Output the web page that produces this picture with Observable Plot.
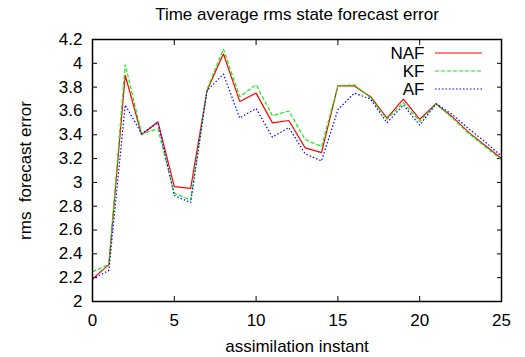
<!DOCTYPE html>
<html>
<head>
<meta charset="utf-8">
<script src="https://cdn.jsdelivr.net/npm/d3@7"></script>
<script src="https://cdn.jsdelivr.net/npm/@observablehq/plot@0.6"></script>
<style>
  html, body { margin: 0; padding: 0; background: #fff; }
  svg { white-space: pre; }
</style>
</head>
<body>
<div id="chart"></div>
<script>
const title = "Time average rms state forecast error";
const xLabel = "assimilation instant";
const yLabel = "rms  forecast error";
const instants = d3.range(0, 26);
const xTicks = [0, 5, 10, 15, 20, 25];
const yTicks = [2, 2.2, 2.4, 2.6, 2.8, 3, 3.2, 3.4, 3.6, 3.8, 4, 4.2];
const seriesNames = ["NAF", "KF", "AF"];
const naf = [2.19, 2.31, 3.90, 3.40, 3.51, 2.965, 2.95, 3.77, 4.08, 3.68, 3.75, 3.50, 3.52, 3.29, 3.25, 3.81, 3.81, 3.72, 3.54, 3.70, 3.53, 3.66, 3.55, 3.42, 3.31, 3.20];
const kf  = [2.25, 2.31, 3.99, 3.41, 3.45, 2.91, 2.85, 3.78, 4.12, 3.72, 3.82, 3.56, 3.60, 3.36, 3.30, 3.81, 3.82, 3.71, 3.53, 3.67, 3.51, 3.66, 3.54, 3.41, 3.30, 3.19];
const af  = [2.19, 2.26, 3.65, 3.41, 3.50, 2.89, 2.83, 3.77, 3.91, 3.54, 3.62, 3.38, 3.46, 3.24, 3.18, 3.61, 3.75, 3.70, 3.50, 3.65, 3.48, 3.66, 3.57, 3.45, 3.34, 3.22];

const styles = {
  NAF: {stroke: "#ff0000", dash: null},
  KF:  {stroke: "#11ee11", dash: "4,2"},
  AF:  {stroke: "#0000ff", dash: "1.5,2"}
};
const seriesValues = {NAF: naf, KF: kf, AF: af};

const font = "'Liberation Sans', Arial, Helvetica, sans-serif";
const fs = 17;

const lineMarks = seriesNames.map(name =>
  Plot.line(instants.map((x, i) => ({x, y: seriesValues[name][i]})), {
    x: "x", y: "y",
    stroke: styles[name].stroke,
    strokeWidth: 1.2,
    strokeDasharray: styles[name].dash,
    strokeLinejoin: "miter",
    strokeLinecap: "butt"
  })
);

const legendText = seriesNames.map((name, i) =>
  Plot.text([name], {
    frameAnchor: "top-right", dx: -77, dy: 14 + 18 * i,
    textAnchor: "end", lineAnchor: "middle", fontSize: fs, fill: "black"
  })
);

const chart = Plot.plot({
  width: 525,
  height: 357,
  marginLeft: 92,
  marginRight: 24,
  marginTop: 39,
  marginBottom: 56,
  style: {fontFamily: font, fontSize: fs + "px", background: "white", color: "black"},
  x: {domain: [0, 25]},
  y: {domain: [2, 4.2]},
  marks: [
    Plot.axisX({anchor: "bottom", ticks: xTicks, tickSize: 0, tickPadding: 12, label: null, fontSize: fs}),
    Plot.axisX({anchor: "bottom", ticks: xTicks, tickSize: -5, tickFormat: () => "", label: null}),
    Plot.axisX({anchor: "top", ticks: xTicks, tickSize: -5, tickFormat: () => "", label: null}),
    Plot.axisY({anchor: "left", ticks: yTicks, tickSize: 0, tickPadding: 10, label: null, fontSize: fs, tickFormat: d => String(+d.toFixed(1))}),
    Plot.axisY({anchor: "left", ticks: yTicks, tickSize: -5, tickFormat: () => "", label: null}),
    Plot.axisY({anchor: "right", ticks: yTicks, tickSize: -5, tickFormat: () => "", label: null}),
    ...lineMarks,
    Plot.frame({stroke: "black", strokeWidth: 1.5}),
    Plot.text([title], {frameAnchor: "top", dy: -25, textAnchor: "middle", lineAnchor: "middle", fontSize: fs, fill: "black"}),
    Plot.text([xLabel], {frameAnchor: "bottom", dy: 45, textAnchor: "middle", lineAnchor: "middle", fontSize: fs, fill: "black"}),
    Plot.text([yLabel], {frameAnchor: "left", dx: -67, rotate: -90, textAnchor: "middle", lineAnchor: "middle", fontSize: fs, fill: "black"}),
    ...legendText
  ]
});

// Legend sample lines, placed relative to the plot frame
const sx = chart.scale("x"), sy = chart.scale("y");
const frameRight = sx.range[1], frameTop = sy.range[1];
const svg = d3.select(chart);
seriesNames.forEach((name, i) => {
  svg.append("line")
    .attr("x1", frameRight - 66).attr("x2", frameRight - 19)
    .attr("y1", frameTop + 14 + 18 * i).attr("y2", frameTop + 14 + 18 * i)
    .attr("stroke", styles[name].stroke)
    .attr("stroke-width", 1.2)
    .attr("stroke-dasharray", styles[name].dash);
});

document.getElementById("chart").appendChild(chart);
</script>
</body>
</html>
